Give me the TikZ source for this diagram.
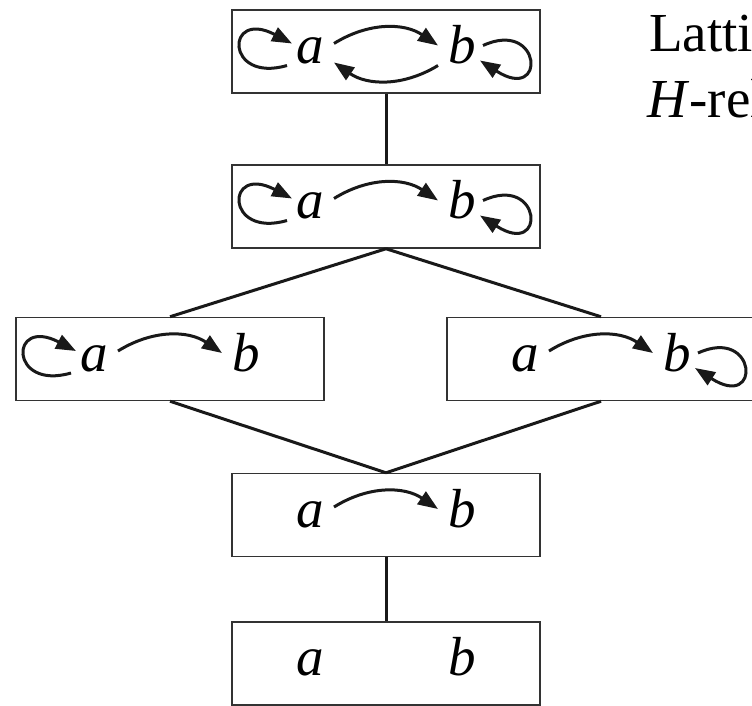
\documentclass[tikz,border=0pt]{standalone}
\usepackage{fontspec}
\setmainfont{Liberation Serif}
\usetikzlibrary{arrows.meta}
\begin{document}
\begin{tikzpicture}[x=1pt,y=1pt,
  box/.style={draw=black!80, line width=1.5pt, minimum width=308pt, minimum height=83pt, inner sep=0pt},
  lbl/.style={inner sep=0pt, anchor=base, font=\fontsize{55}{66}\selectfont\itshape},
  title/.style={inner sep=0pt, anchor=base west, font=\fontsize{55}{66}\selectfont},
  link/.style={draw=black!90, line width=3pt},
  arr/.style={line width=3pt, draw=black!90, -{Triangle[length=20pt,width=15pt]}},
]
\useasboundingbox (0,0) rectangle (752,-706);
\clip (0,0) rectangle (752,-706);

% boxes
\node[box] (B1) at (386,-51.5) {};
\node[box] (B2) at (386,-206.5) {};
\node[box] (B3) at (170,-359) {};
\node[box] (B4) at (601,-359) {};
\node[box] (B5) at (386,-515) {};
\node[box] (B6) at (386,-663.5) {};

% connectors
\draw[link] (B1.south) -- (B2.north);
\draw[link] (B2.south) -- (B3.north);
\draw[link] (B2.south) -- (B4.north);
\draw[link] (B3.south) -- (B5.north);
\draw[link] (B4.south) -- (B5.north);
\draw[link] (B5.south) -- (B6.north);

% letters
\foreach \b in {1,2,3,4,5,6}{
  \node[lbl] (a\b) at ([xshift=-76pt,yshift=-12pt]B\b.center) {a};
  \node[lbl] (b\b) at ([xshift=76pt,yshift=-12pt]B\b.center) {b};
}

% a -> b arcs
\foreach \b in {1,2,3,4,5}{
  \draw[arr] ([shift={(24,20)}]a\b.base) to[bend left=33] ([shift={(-24,18)}]b\b.base);
}
% b -> a arc
\draw[arr] ([shift={(-24,-2)}]b1.base) to[bend left=33] ([shift={(24,1)}]a1.base);

% loops on a
\foreach \b in {1,2,3}{
  \draw[arr] ([shift={(-23,-2)}]a\b.base) .. controls +(-62,-18) and +(-67,35) .. ([shift={(-18,20)}]a\b.base);
}
% loops on b
\foreach \b in {1,2,4}{
  \draw[arr] ([shift={(21,18)}]b\b.base) .. controls +(59,27) and +(67,-43) .. ([shift={(18,3)}]b\b.base);
}

% title (cut at the right edge, as in the reference)
\node[title] (t1) at (649,-52) {Latti};
\node[title] (t2) at (647,-118) {\textit{H}-rel};
\end{tikzpicture}
\end{document}
